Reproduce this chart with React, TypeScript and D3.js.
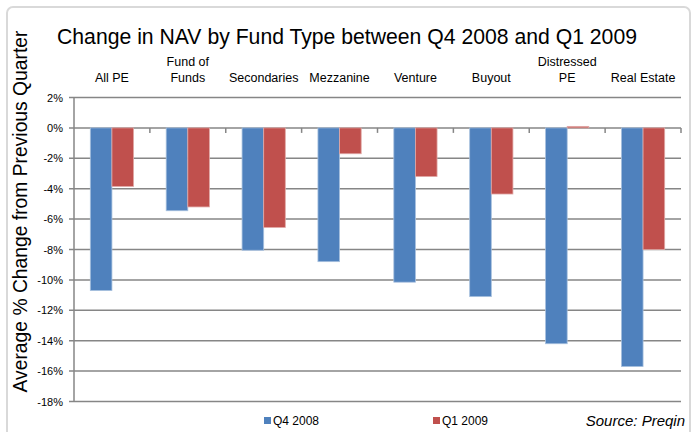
import React from "react";
import * as d3 from "d3";

const categories: string[][] = [
  ["All PE"],
  ["Fund of", "Funds"],
  ["Secondaries"],
  ["Mezzanine"],
  ["Venture"],
  ["Buyout"],
  ["Distressed", "PE"],
  ["Real Estate"],
];
const q4_2008: number[] = [-10.7, -5.45, -8.05, -8.8, -10.15, -11.1, -14.2, -15.7];
const q1_2009: number[] = [-3.85, -5.2, -6.55, -1.7, -3.2, -4.35, 0.1, -8.0];
const seriesNames: string[] = ["Q4 2008", "Q1 2009"];
const yTicks: number[] = [2, 0, -2, -4, -6, -8, -10, -12, -14, -16, -18];

const W = 699;
const H = 432;
const left = 74;
const right = 681;
const top = 97.5;
const bottom = 401.5;
const colors = ["#4F81BD", "#C0504D"];
const strokes = ["#A7C0DE", "#E0A8A6"];
const font = "'Liberation Sans', Arial, sans-serif";

export default function App() {
  const x = d3
    .scaleBand<number>()
    .domain(categories.map((_, i) => i))
    .range([left, right])
    .paddingInner(0)
    .paddingOuter(0);
  const y = d3.scaleLinear().domain([-18, 2]).range([bottom, top]);
  const bw = x.bandwidth();
  const barW = bw * 0.285;
  const y0 = y(0);
  const series = [q4_2008, q1_2009];

  return (
    <svg
      width={W}
      height={H}
      style={{ position: "absolute", left: 0, top: 0, background: "#fff" }}
      fontFamily={font}
    >
      <rect x={0} y={0} width={W} height={H} fill="#fff" />
      <rect
        x={7}
        y={7}
        width={683}
        height={450}
        rx={6}
        fill="#fff"
        stroke="#D9D9D9"
        strokeWidth={2}
      />
      <text x={347} y={44} textAnchor="middle" fontSize={21.2} fill="#000">
        Change in NAV by Fund Type between Q4 2008 and Q1 2009
      </text>
      <text
        transform={`translate(26.5,211.5) rotate(-90)`}
        textAnchor="middle"
        fontSize={19.3}
        fill="#000"
      >
        Average % Change from Previous Quarter
      </text>
      {yTicks.map((t) => (
        <g key={t}>
          <line
            x1={left - 5}
            x2={right}
            y1={y(t)}
            y2={y(t)}
            stroke="#868686"
            strokeWidth={1.5}
          />
          <text
            x={63}
            y={y(t) + 4}
            textAnchor="end"
            fontSize={11}
            fill="#000"
          >
            {t}%
          </text>
        </g>
      ))}
      <line x1={left} x2={left} y1={top} y2={bottom} stroke="#868686" strokeWidth={1.5} />
      {categories.map((_, i) => (
        <line
          key={"tk" + i}
          x1={(x(i) as number) + bw}
          x2={(x(i) as number) + bw}
          y1={y0}
          y2={y0 + 5}
          stroke="#868686"
          strokeWidth={1.5}
        />
      ))}
      {series.map((vals, s) =>
        vals.map((v, i) => {
          const cx = (x(i) as number) + bw / 2;
          const bx = s === 0 ? cx - barW : cx;
          const yt = Math.min(y(v), y0);
          const h = Math.abs(y(v) - y0);
          return (
            <rect
              key={s + "-" + i}
              x={bx}
              y={yt}
              width={barW}
              height={h}
              fill={colors[s]}
              stroke={strokes[s]}
              strokeWidth={0.8}
            />
          );
        })
      )}
      {categories.map((lines, i) => {
        const cx = (x(i) as number) + bw / 2;
        return (
          <text key={"c" + i} textAnchor="middle" fontSize={12.5} fill="#000">
            {lines.map((ln, k) => (
              <tspan key={k} x={cx} y={82 - (lines.length - 1 - k) * 16}>
                {ln}
              </tspan>
            ))}
          </text>
        );
      })}
      {seriesNames.map((n, s) => {
        const lx = s === 0 ? 264 : 433;
        return (
          <g key={n}>
            <rect x={lx} y={417} width={7} height={7} fill={colors[s]} />
            <text x={lx + 9} y={424.5} fontSize={12} fill="#000">
              {n}
            </text>
          </g>
        );
      })}
      <text x={685} y={426} textAnchor="end" fontSize={15} fontStyle="italic" fill="#000">
        Source: Preqin
      </text>
    </svg>
  );
}
